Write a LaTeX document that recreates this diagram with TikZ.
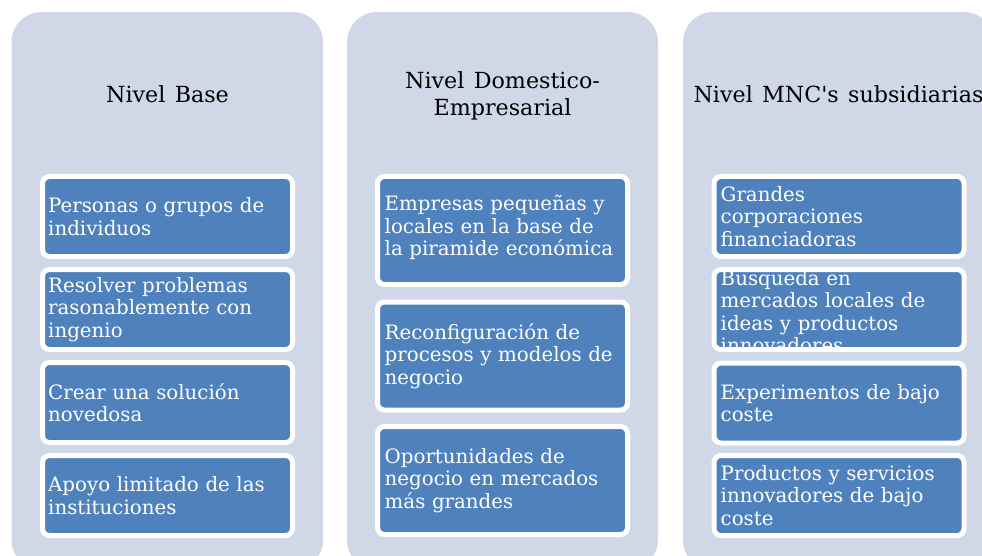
\documentclass[tikz,border=0pt]{standalone}
\usepackage{fontspec}
\setmainfont{DejaVu Serif}
\definecolor{panelbg}{HTML}{D0D7E7}
\definecolor{itemblue}{HTML}{4F81BD}
\newcommand\titlefnt{\fontsize{22.2}{27}\selectfont\spaceskip=0.42em plus 0.1em\relax}
\newcommand\itemfnt{\fontsize{19.8}{22.5}\selectfont\spaceskip=0.52em plus 0.1em\relax}
\begin{document}
\begin{tikzpicture}[x=1pt,y=-1pt,
  panel/.style={fill=panelbg, draw=none, rounded corners=30pt},
  title/.style={font=\titlefnt, text=black, align=center, inner sep=0pt},
  itembox/.style={rectangle, fill=itemblue, draw=white, line width=5pt, rounded corners=7pt,
    minimum width=250pt, inner sep=0pt, outer sep=0pt},
  shortbox/.style={itembox, minimum height=80pt},
  tallbox/.style={itembox, minimum height=108pt},
  itemtext/.style={text=white, align=left, text width=262pt, inner sep=0pt, anchor=west,
    font=\itemfnt}
]
\useasboundingbox (0,0) rectangle (982,556);
\clip (0,0) rectangle (982,556);

% panels
\fill[panelbg, rounded corners=30pt] (11.5,12) rectangle (323,570);
\fill[panelbg, rounded corners=30pt] (347,12) rectangle (658,570);
\fill[panelbg, rounded corners=30pt] (683,12) rectangle (994,570);

% titles
\node[title] (h1) at (167.5,94) {Nivel Base};
\node[title] (h2) at (502.5,95.5) {Nivel Domestico-\\Empresarial};
\node[title] (h3) at (838.5,94) {Nivel MNC\textquotesingle s subsidiarias};

% column 1
\node[shortbox] (b11) at (167.5,216.5) {};
\node[shortbox] (b12) at (167.5,309.5) {};
\node[shortbox] (b13) at (167.5,402.5) {};
\node[shortbox] (b14) at (167.5,495.5) {};
\node[itemtext] (t11) at ([xshift=5.5pt]b11.west) {Personas o grupos de\\individuos};
\node[itemtext] (t12) at ([xshift=5.5pt]b12.west) {Resolver problemas\\rasonablemente con\\ingenio};
\node[itemtext] (t13) at ([xshift=5.5pt]b13.west) {Crear una solución\\novedosa};
\node[itemtext] (t14) at ([xshift=5.5pt]b14.west) {Apoyo limitado de las\\instituciones};

% column 2
\node[tallbox] (b21) at (502.5,230.5) {};
\node[tallbox] (b22) at (502.5,356) {};
\node[tallbox] (b23) at (502.5,480.5) {};
\node[itemtext] (t21) at ([xshift=7pt,yshift=3pt]b21.west) {Empresas pequeñas y\\locales en la base de\\la piramide económica};
\node[itemtext] (t22) at ([xshift=7pt]b22.west) {Reconfiguración de\\procesos y modelos de\\negocio};
\node[itemtext] (t23) at ([xshift=7pt]b23.west) {Oportunidades de\\negocio en mercados\\más grandes};

% column 3
\node[shortbox] (b31) at (839,216.5) {};
\node[shortbox] (b32) at (839,309.5) {};
\node[shortbox] (b33) at (839,403) {};
\node[shortbox] (b34) at (839,495.5) {};
\node[itemtext] (t31) at ([xshift=6.5pt]b31.west) {Grandes\\corporaciones\\financiadoras};
\begin{scope}
  \clip ([shift={(2.5pt,-2.5pt)}]b32.north west) rectangle ([shift={(-2.5pt,2.5pt)}]b32.south east);
  \node[itemtext] (t32) at ([xshift=6.5pt,yshift=-2pt]b32.west) {Busqueda en\\mercados locales de\\ideas y productos\\innovadores};
\end{scope}
\node[itemtext] (t33) at ([xshift=6.5pt]b33.west) {Experimentos de bajo\\coste};
\node[itemtext] (t34) at ([xshift=6.5pt]b34.west) {Productos y servicios\\innovadores de bajo\\coste};
\end{tikzpicture}
\end{document}
